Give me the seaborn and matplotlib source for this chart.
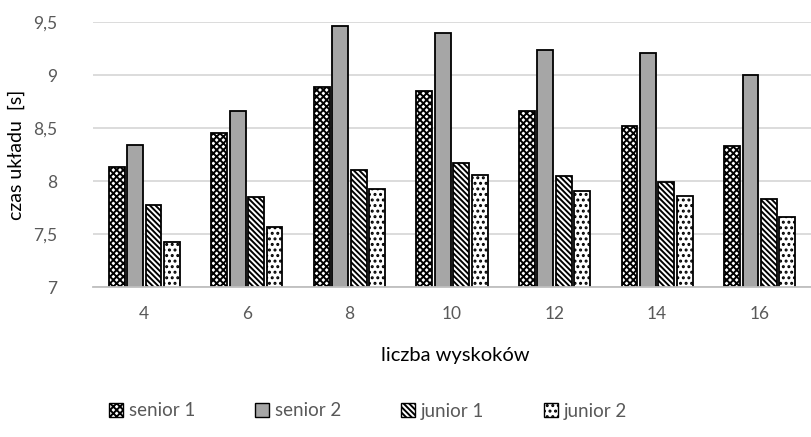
import pandas as pd
import matplotlib
matplotlib.use("Agg")
import matplotlib.pyplot as plt
from matplotlib.patches import Patch
import seaborn as sns

# values
skoki = ["4", "6", "8", "10", "12", "14", "16"]
serie = ["senior 1", "senior 2", "junior 1", "junior 2"]
senior_1 = [8.13, 8.45, 8.89, 8.85, 8.66, 8.52, 8.33]
senior_2 = [8.34, 8.66, 9.46, 9.40, 9.24, 9.21, 9.00]
junior_1 = [7.77, 7.85, 8.10, 8.17, 8.05, 7.99, 7.83]
junior_2 = [7.42, 7.57, 7.92, 8.06, 7.91, 7.86, 7.66]
y_ticks = [7, 7.5, 8, 8.5, 9, 9.5]
y_tick_labels = ["7", "7,5", "8", "8,5", "9", "9,5"]

df = pd.DataFrame({
    "liczba": skoki * 4,
    "czas": senior_1 + senior_2 + junior_1 + junior_2,
    "seria": sum([[s] * len(skoki) for s in serie], []),
})

sns.set_style("white")
plt.rcParams["font.family"] = ["Lato", "DejaVu Sans"]
plt.rcParams["hatch.linewidth"] = 1.4
plt.rcParams["hatch.color"] = "black"

colors = {"senior 1": "white", "senior 2": "#a6a6a6", "junior 1": "white", "junior 2": "white"}
hatches = {"senior 1": "xxxxx", "senior 2": "", "junior 1": "\\" * 6, "junior 2": "..."}

fig = plt.figure(figsize=(8.11, 4.37), dpi=100)
ax = fig.add_axes([93 / 811, 1 - 287 / 437, 1 - 93 / 811, (287 - 22) / 437])

sns.barplot(data=df, x="liczba", y="czas", hue="seria", order=skoki, hue_order=serie,
            palette=colors, width=0.72, gap=0.14, edgecolor="black", linewidth=1.3,
            legend=False, ax=ax)

for cont, s in zip(ax.containers, serie):
    for bar in cont:
        bar.set_hatch(hatches[s])

ax.set_ylim(7, 9.5)
ax.set_xlim(-0.5, 6.44)
ax.set_yticks(y_ticks)
ax.set_yticklabels(y_tick_labels)
ax.yaxis.grid(True, color="#d9d9d9", linewidth=1.3)
ax.set_axisbelow(True)
for side in ["top", "right", "left"]:
    ax.spines[side].set_visible(False)
ax.spines["bottom"].set_color("#bfbfbf")
ax.spines["bottom"].set_linewidth(1.3)

ax.set_xticks([i + 0.5 for i in range(-1, 7)], minor=True)
ax.tick_params(axis="x", which="minor", length=6, width=1.3, color="#bfbfbf", direction="out")
ax.tick_params(axis="x", which="major", length=0, pad=14, labelsize=12.5, labelcolor="#595959")
ax.tick_params(axis="y", length=0, pad=26, labelsize=12.5, labelcolor="#595959")

ax.set_xlabel("liczba wyskoków", fontsize=14.5, color="black")
ax.set_ylabel("czas układu  [s]", fontsize=14, color="black")
ax.xaxis.set_label_coords((455 - 93) / (811 - 93), -(347 - 287) / 265)
ax.yaxis.set_label_coords(-(93 - 25) / 718, (287 - 155) / 265)

handles = [Patch(facecolor=colors[s], edgecolor="black", hatch=hatches[s], linewidth=1.0)
           for s in serie]
fig.legend(handles, serie, loc="center", bbox_to_anchor=(368 / 811, 1 - 411 / 437), ncol=4,
           frameon=False, fontsize=13.5, handlelength=0.75, handleheight=0.75,
           handletextpad=0.3, columnspacing=3.2, labelcolor="#595959")

fig.savefig("out.png", dpi=100)
